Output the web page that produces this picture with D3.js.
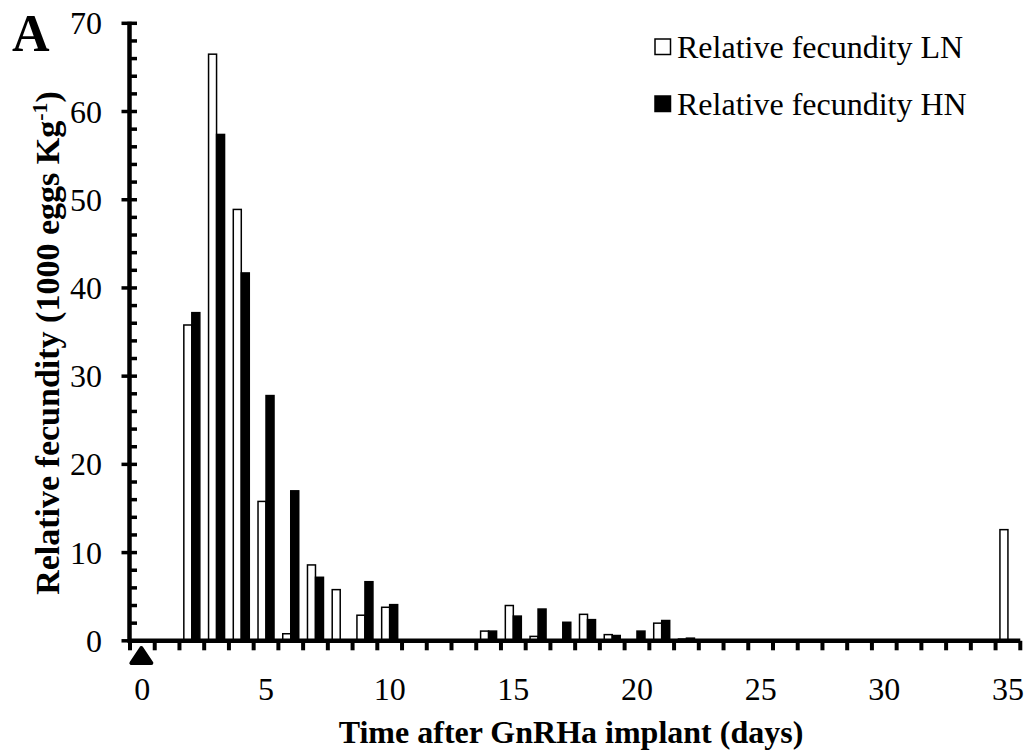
<!DOCTYPE html>
<html>
<head>
<meta charset="utf-8">
<script src="https://cdn.jsdelivr.net/npm/d3@7"></script>
<style>
  html, body { margin: 0; padding: 0; background: #fff; }
  svg { display: block; }
  text { font-family: "Liberation Serif", "Times New Roman", serif; fill: #000; }
</style>
</head>
<body>
<svg id="chart" width="1026" height="753"></svg>
<script>
// ---- data ----
const days = [0,1,2,3,4,5,6,7,8,9,10,11,12,13,14,15,16,17,18,19,20,21,22,23,24,25,26,27,28,29,30,31,32,33,34,35];
const fecundityLN = [0,0,35.8,66.5,48.9,15.8,0.8,8.6,5.8,2.9,3.8,0,0,0,1.1,4.0,0.5,0,3.0,0.7,0,2.0,0.2,0,0,0,0,0,0,0,0,0,0,0,0,12.6];
const fecundityHN = [0,0,37.2,57.4,41.7,27.8,17.0,7.2,0,6.7,4.1,0,0,0,1.1,2.8,3.6,2.1,2.4,0.6,1.1,2.3,0.3,0,0,0,0,0,0,0,0,0,0,0,0,0];
const seriesNames = ["Relative fecundity LN", "Relative fecundity HN"];
const xTickLabels = ["0","5","10","15","20","25","30","35"];
const yTicksMajor = [0,10,20,30,40,50,60,70];
const yTicksMinor = [2,4,6,8,12,14,16,18,22,24,26,28,32,34,36,38,42,44,46,48,52,54,56,58,62,64,66,68];

(function () {
// ---- layout ----
const svg = d3.select("#chart");
const mLeft = 130, mRight = 1020.3, mTop = 23.3, mBottom = 640.8;

const x = d3.scaleBand().domain(days).range([mLeft, mRight]).paddingInner(0).paddingOuter(0);
const bw = x.bandwidth();
const x1 = d3.scaleBand().domain(["LN","HN"]).range([bw/2 - 8, bw/2 + 8]).padding(0);
const y = d3.scaleLinear().domain([0, 70]).range([mBottom, mTop]);

const rows = days.map((d, i) => ({day: d, LN: fecundityLN[i], HN: fecundityHN[i]}));

// bars
const g = svg.append("g");
rows.forEach(r => {
  ["LN","HN"].forEach(k => {
    if (r[k] <= 0) return;
    g.append("rect")
      .attr("x", x(r.day) + x1(k))
      .attr("y", y(r[k]))
      .attr("width", x1.bandwidth())
      .attr("height", y(0) - y(r[k]))
      .attr("fill", k === "LN" ? "#fff" : "#000")
      .attr("stroke", "#000")
      .attr("stroke-width", 1.5);
  });
});

// x axis line
svg.append("line")
  .attr("x1", mLeft - 2).attr("x2", mRight)
  .attr("y1", y(0)).attr("y2", y(0))
  .attr("stroke", "#000").attr("stroke-width", 4.5);

// x axis ticks at band boundaries
const bounds = days.map(d => x(d)).concat([x(days[days.length-1]) + bw]);
svg.selectAll(".xt").data(bounds).enter().append("line")
  .attr("x1", d => d).attr("x2", d => d)
  .attr("y1", y(0)).attr("y2", y(0) + 9.5)
  .attr("stroke", "#000").attr("stroke-width", 4);

// x tick labels
svg.selectAll(".xl").data(xTickLabels).enter().append("text")
  .attr("x", d => x(+d) + bw/2)
  .attr("y", 699.5)
  .attr("text-anchor", "middle")
  .attr("font-size", 32)
  .text(d => d);

// y axis line
svg.append("line")
  .attr("x1", mLeft - 0.5).attr("x2", mLeft - 0.5)
  .attr("y1", y(0) + 2).attr("y2", y(70) - 1.5)
  .attr("stroke", "#000").attr("stroke-width", 4.5);

svg.selectAll(".ytM").data(yTicksMajor).enter().append("line")
  .attr("x1", mLeft - 8.5).attr("x2", mLeft + 7)
  .attr("y1", d => y(d)).attr("y2", d => y(d))
  .attr("stroke", "#000").attr("stroke-width", 3.5);
svg.selectAll(".ytm").data(yTicksMinor).enter().append("line")
  .attr("x1", mLeft).attr("x2", mLeft + 7)
  .attr("y1", d => y(d)).attr("y2", d => y(d))
  .attr("stroke", "#000").attr("stroke-width", 3.5);

svg.selectAll(".yl").data(yTicksMajor).enter().append("text")
  .attr("x", 102)
  .attr("y", d => y(d) + 11)
  .attr("text-anchor", "end")
  .attr("font-size", 32)
  .text(d => d);

// day-0 implant marker (triangle)
const cx0 = x(0) + bw/2 - 1;
svg.append("path")
  .attr("d", `M${cx0},648 L${cx0-10},663 L${cx0+10},663 Z`)
  .attr("fill", "#000").attr("stroke", "#000")
  .attr("stroke-width", 4).attr("stroke-linejoin", "round");

// axis titles
svg.append("text")
  .attr("x", 571)
  .attr("y", 743)
  .attr("text-anchor", "middle")
  .attr("font-size", 32)
  .attr("font-weight", "bold")
  .text("Time after GnRHa implant (days)");

const yt = svg.append("text")
  .attr("transform", `translate(59,343) rotate(-90)`)
  .attr("text-anchor", "middle")
  .attr("font-size", 34)
  .attr("font-weight", "bold");
yt.append("tspan").text("Relative fecundity (1000 eggs Kg");
yt.append("tspan").attr("font-size", 22).attr("dy", -12).text("-1");
yt.append("tspan").attr("dy", 12).text(")");

// panel letter
svg.append("text")
  .attr("x", 12).attr("y", 51)
  .attr("font-size", 52)
  .attr("font-weight", "bold")
  .text("A");

// legend
const legend = svg.append("g");
seriesNames.forEach((name, i) => {
  const ly = 39 + i * 57;
  legend.append("rect")
    .attr("x", 655).attr("y", ly)
    .attr("width", 15.5).attr("height", 15.5)
    .attr("fill", i === 0 ? "#fff" : "#000")
    .attr("stroke", "#000").attr("stroke-width", 1.5);
  legend.append("text")
    .attr("x", 677).attr("y", ly + 18.5)
    .attr("font-size", 32)
    .text(name);
});
})();
</script>
</body>
</html>
